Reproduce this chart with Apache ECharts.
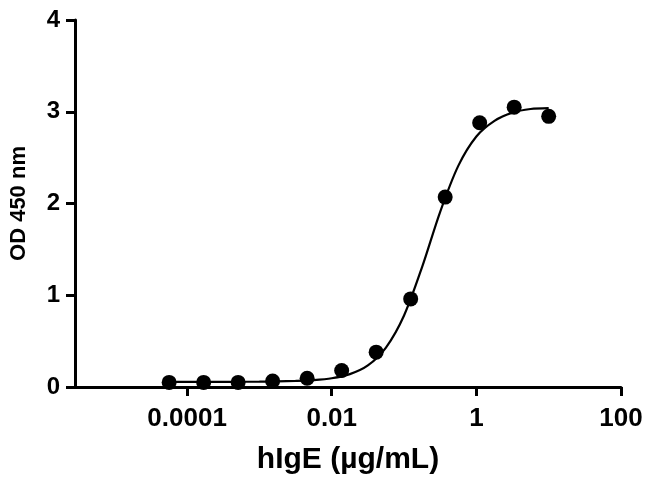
<!DOCTYPE html>
<html>
<head>
<meta charset="utf-8">
<script src="https://cdn.jsdelivr.net/npm/echarts@6/dist/echarts.min.js"></script>
<style>
html,body{margin:0;padding:0;background:#fff;}
#c{width:650px;height:484px;}
</style>
</head>
<body>
<div id="c"></div>
<script>
// Measured data points (3-fold dilution series), concentration in µg/mL
var concentrations = [0.00005645, 0.0001694, 0.000508, 0.001524, 0.004572, 0.01372, 0.04115, 0.1235, 0.3704, 1.111, 3.333, 10];
var odValues = [0.05, 0.05, 0.05, 0.065, 0.095, 0.18, 0.38, 0.96, 2.07, 2.88, 3.05, 2.95];

// Fitted curve
var curveConc = [0.0000562, 0.0001, 0.000178, 0.000316, 0.000562, 0.001, 0.00178, 0.00316, 0.00562, 0.01, 0.0178, 0.0316, 0.0562, 0.1, 0.178, 0.316, 0.562, 1, 1.78, 3.16, 5.62, 10];
var curveOD = [0.055, 0.055, 0.055, 0.056, 0.057, 0.058, 0.061, 0.066, 0.075, 0.095, 0.14, 0.235, 0.43, 0.78, 1.31, 1.91, 2.41, 2.73, 2.9, 2.99, 3.03, 3.04];

// Axis ticks
var xTickValues = [0.0001, 0.01, 1, 100];
var xTickLabels = ['0.0001', '0.01', '1', '100'];
var yTickValues = [0, 1, 2, 3, 4];

var xTickLogs = xTickValues.map(function (v) { return Math.log10(v); });
var labelMap = {};
xTickLogs.forEach(function (l, i) { labelMap[Math.round(l)] = xTickLabels[i]; });

var pts = concentrations.map(function (c, i) { return [Math.log10(c), odValues[i]]; });
var curve = curveConc.map(function (c, i) { return [Math.log10(c), curveOD[i]]; });

var FONT = 'Liberation Sans';
var chart = echarts.init(document.getElementById('c'), null, { renderer: 'canvas' });
chart.setOption({
  animation: false,
  backgroundColor: '#fff',
  grid: { left: 66, right: 29, top: 20, bottom: 97, containLabel: false },
  xAxis: {
    type: 'value',
    min: -5.55,
    max: 2,
    name: 'hIgE (µg/mL)',
    nameLocation: 'middle',
    nameGap: 58,
    nameTextStyle: { fontFamily: FONT, fontWeight: 'bold', fontSize: 30, color: '#000' },
    axisLine: { show: true, onZero: false, lineStyle: { color: '#000', width: 3 } },
    axisTick: { show: true, length: 9, lineStyle: { color: '#000', width: 3 }, customValues: xTickLogs },
    axisLabel: {
      show: true, margin: 19, fontFamily: FONT, fontWeight: 'bold', fontSize: 26, color: '#000',
      customValues: xTickLogs,
      formatter: function (v) { return labelMap[Math.round(v)]; }
    },
    splitLine: { show: false }
  },
  yAxis: {
    type: 'value',
    min: 0,
    max: 4,
    interval: 1,
    name: 'OD 450 nm',
    nameLocation: 'middle',
    nameGap: 45,
    nameTextStyle: { fontFamily: FONT, fontWeight: 'bold', fontSize: 22, color: '#000' },
    axisLine: { show: true, onZero: false, lineStyle: { color: '#000', width: 3 } },
    axisTick: { show: true, length: 9, lineStyle: { color: '#000', width: 3 }, customValues: yTickValues },
    axisLabel: { show: true, margin: 15, fontFamily: FONT, fontWeight: 'bold', fontSize: 24, color: '#000', customValues: yTickValues },
    splitLine: { show: false }
  },
  series: [
    {
      type: 'line',
      data: curve,
      smooth: 0.3,
      showSymbol: false,
      symbol: 'none',
      lineStyle: { color: '#000', width: 2.2 },
      z: 2
    },
    {
      type: 'scatter',
      data: pts,
      symbol: 'circle',
      symbolSize: 15,
      itemStyle: { color: '#000', opacity: 1 },
      z: 3
    }
  ]
});
</script>
</body>
</html>
